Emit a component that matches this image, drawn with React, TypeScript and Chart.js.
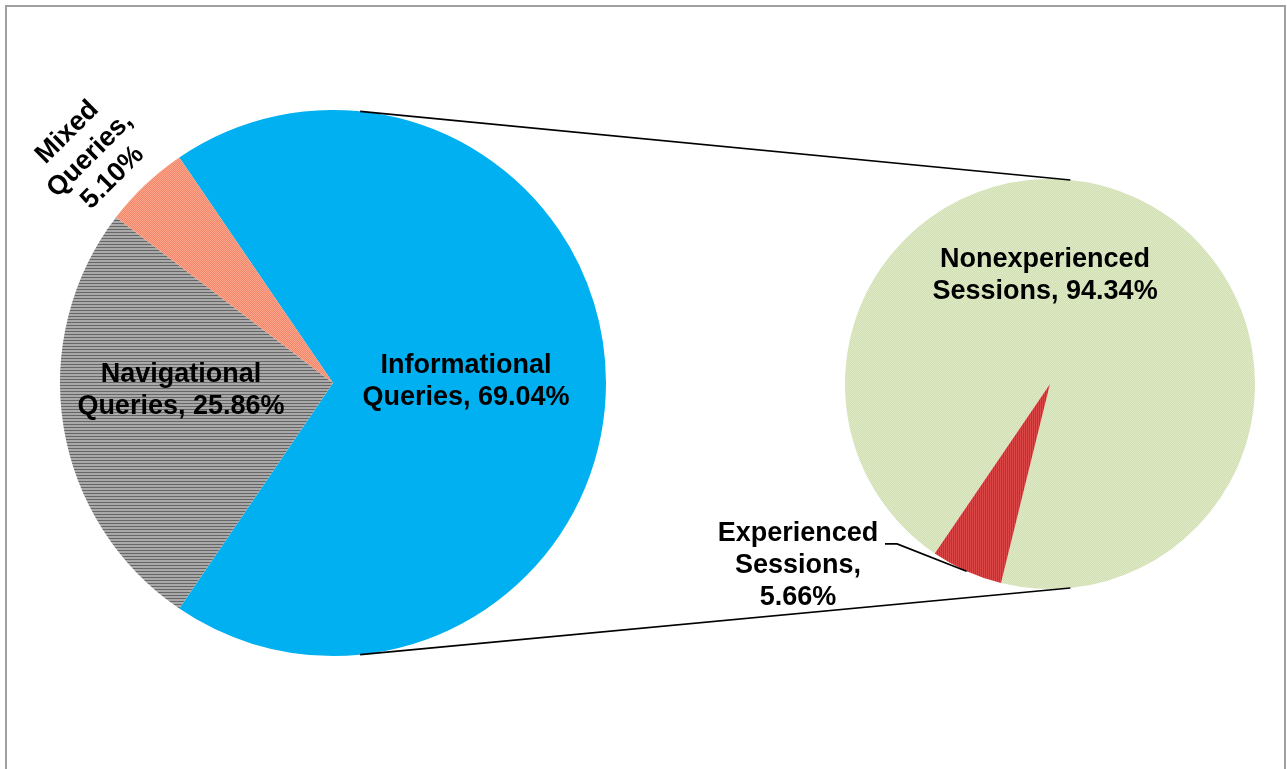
import React, { useEffect, useRef } from "react";
import { Chart, registerables } from "chart.js";

Chart.register(...registerables);

// ---- data ----
const mainCategories = ["Informational Queries", "Navigational Queries", "Mixed Queries"];
const mainValues = [69.04, 25.86, 5.1];
const subCategories = ["Nonexperienced Sessions", "Experienced Sessions"];
const subValues = [94.34, 5.66];

const pct = (v: number) => `${v.toFixed(2)}%`;
const mainLabelLines = [
  ["Informational", `Queries, ${pct(mainValues[0])}`],
  ["Navigational", `Queries, ${pct(mainValues[1])}`],
  ["Mixed", "Queries,", pct(mainValues[2])],
];
const subLabelLines = [
  ["Nonexperienced", `Sessions, ${pct(subValues[0])}`],
  ["Experienced", "Sessions,", pct(subValues[1])],
];

// ---- layout / style ----
const W = 1277;
const H = 762;
const FONT = 'bold 27px "Liberation Sans", Arial, sans-serif';
const LINE_H = 32;

function makePattern(w: number, h: number, draw: (c: CanvasRenderingContext2D) => void) {
  const cv = document.createElement("canvas");
  cv.width = w;
  cv.height = h;
  const c = cv.getContext("2d")!;
  draw(c);
  return c.createPattern(cv, "repeat")!;
}

function checker(a: string, b: string) {
  return makePattern(2, 2, (c) => {
    c.fillStyle = a;
    c.fillRect(0, 0, 2, 2);
    c.fillStyle = b;
    c.fillRect(1, 0, 1, 1);
    c.fillRect(0, 1, 1, 1);
  });
}

type LabelPos = { dx: number; dy: number; rot?: number };
const mainLabelPos: LabelPos[] = [
  { dx: 0.487, dy: -0.007 },
  { dx: -0.557, dy: 0.029 },
  { dx: -0.89, dy: -0.835, rot: -45 },
];
const subLabelPos: LabelPos[] = [
  { dx: -0.024, dy: -0.527 },
  { dx: -1.229, dy: 0.888 },
];
const CONNECT_ANGLE = 84.3; // degrees from horizontal

function drawLabels(chart: Chart, lines: string[][], pos: LabelPos[]) {
  const ctx = chart.ctx;
  const arc: any = chart.getDatasetMeta(0).data[0];
  const { x, y, outerRadius } = arc.getProps(["x", "y", "outerRadius"], true);
  ctx.save();
  ctx.font = FONT;
  ctx.fillStyle = "#000";
  ctx.textAlign = "center";
  ctx.textBaseline = "middle";
  lines.forEach((ls, i) => {
    const p = pos[i];
    ctx.save();
    ctx.translate(x + p.dx * outerRadius, y + p.dy * outerRadius);
    if (p.rot) ctx.rotate((p.rot * Math.PI) / 180);
    ls.forEach((t, j) => {
      ctx.fillText(t, 0, (j - (ls.length - 1) / 2) * LINE_H);
    });
    ctx.restore();
  });
  ctx.restore();
}

export default function App() {
  const leftRef = useRef<HTMLCanvasElement>(null);
  const rightRef = useRef<HTMLCanvasElement>(null);

  useEffect(() => {
    const navPattern = makePattern(1, 3, (c) => {
      c.fillStyle = "#a9a9a9";
      c.fillRect(0, 0, 1, 3);
      c.fillStyle = "#666666";
      c.fillRect(0, 0, 1, 1);
    });
    const mixedPattern = checker("#FBA58C", "#F48769");
    const expPattern = makePattern(2, 1, (c) => {
      c.fillStyle = "#DB4646";
      c.fillRect(0, 0, 2, 1);
      c.fillStyle = "#C22F2F";
      c.fillRect(0, 0, 1, 1);
    });
    const nonExpPattern = checker("#DFE9C7", "#D1E0B2");

    const left = new Chart(leftRef.current!, {
      type: "pie",
      data: {
        labels: mainCategories,
        datasets: [
          {
            data: mainValues,
            backgroundColor: ["#00B0F0", navPattern, mixedPattern] as any,
            borderWidth: 0,
            hoverOffset: 0,
          },
        ],
      },
      options: {
        responsive: false,
        animation: false,
        events: [],
        rotation: 90 - (mainValues[0] / 100) * 180,
        layout: { padding: { left: 53, right: W - 599, top: 103, bottom: H - 649 } },
        plugins: { legend: { display: false }, tooltip: { enabled: false } },
      },
      plugins: [
        {
          id: "mainLabels",
          afterDatasetsDraw(chart: Chart) {
            drawLabels(chart, mainLabelLines, mainLabelPos);
          },
        },
      ],
    });

    const right = new Chart(rightRef.current!, {
      type: "pie",
      data: {
        labels: subCategories,
        datasets: [
          {
            data: subValues,
            backgroundColor: [nonExpPattern, expPattern] as any,
            borderWidth: 0,
            hoverOffset: 0,
          },
        ],
      },
      options: {
        responsive: false,
        animation: false,
        events: [],
        rotation: 214.2,
        layout: { padding: { left: 838, right: W - 1248, top: 172, bottom: H - 582 } },
        plugins: { legend: { display: false }, tooltip: { enabled: false } },
      },
      plugins: [
        {
          id: "subLabelsAndConnectors",
          afterDatasetsDraw(chart: Chart) {
            const ctx = chart.ctx;
            const a1: any = left.getDatasetMeta(0).data[0];
            const p1 = a1.getProps(["x", "y", "outerRadius"], true);
            const arcs: any[] = chart.getDatasetMeta(0).data as any;
            const p2 = arcs[0].getProps(["x", "y", "outerRadius"], true);
            const ang = (CONNECT_ANGLE * Math.PI) / 180;
            ctx.save();
            ctx.strokeStyle = "#000";
            ctx.lineWidth = 1.7;
            for (const s of [-1, 1]) {
              ctx.beginPath();
              ctx.moveTo(p1.x + p1.outerRadius * Math.cos(ang), p1.y + s * p1.outerRadius * Math.sin(ang));
              ctx.lineTo(p2.x + p2.outerRadius * Math.cos(ang), p2.y + s * p2.outerRadius * Math.sin(ang));
              ctx.stroke();
            }
            // leader line for Experienced label
            const e = arcs[1].getProps(["x", "y", "startAngle", "endAngle", "outerRadius"], true);
            const mid = (e.startAngle + e.endAngle) / 2;
            const ex = e.x + e.outerRadius * Math.cos(mid);
            const ey = e.y + e.outerRadius * Math.sin(mid);
            const r = e.outerRadius;
            ctx.lineWidth = 1.7;
            ctx.beginPath();
            ctx.moveTo(e.x - 0.805 * r, e.y + 0.78 * r);
            ctx.lineTo(e.x - 0.746 * r, e.y + 0.78 * r);
            ctx.lineTo(ex, ey);
            ctx.stroke();
            ctx.restore();
            drawLabels(chart, subLabelLines, subLabelPos);
          },
        },
      ],
    });

    return () => {
      right.destroy();
      left.destroy();
    };
  }, []);

  const canvasStyle: React.CSSProperties = {
    position: "absolute",
    left: 0,
    top: 0,
    width: W,
    height: H,
  };

  return (
    <div style={{ position: "fixed", left: 0, top: 0, width: 1287, height: 769, overflow: "hidden", background: "#fff" }}>
      <div
        style={{
          position: "absolute",
          left: 5,
          top: 5,
          width: 1281,
          height: 800,
          border: "2px solid #a0a0a0",
          boxSizing: "border-box",
          background: "#fff",
        }}
      >
        <canvas ref={leftRef} width={W} height={H} style={canvasStyle} />
        <canvas ref={rightRef} width={W} height={H} style={canvasStyle} />
      </div>
    </div>
  );
}
